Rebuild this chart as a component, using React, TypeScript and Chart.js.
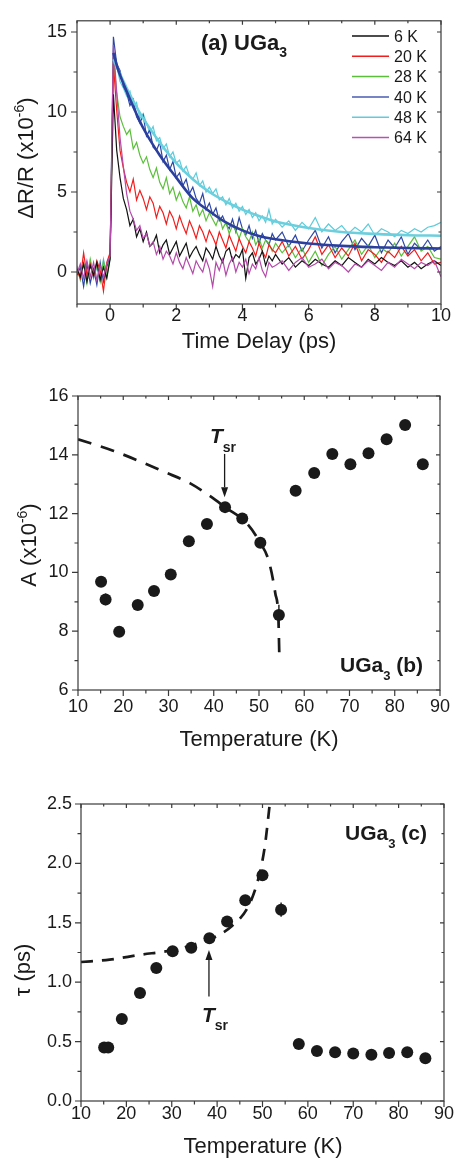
import { useEffect, useRef } from "react";
import { Chart, registerables } from "chart.js";

Chart.register(...registerables);

const FONT = "'Liberation Sans', Arial, Helvetica, sans-serif";
const INK = "#1a1a1a";
const FRAME = "#3a3a3a";

// ---------------- Panel (a) data ----------------
const TIME_PS = [
  -1.0, -0.9, -0.8, -0.7, -0.6, -0.5, -0.4, -0.3, -0.2, -0.1,
  0.0,
  0.1, 0.2, 0.3, 0.4, 0.5, 0.6, 0.7, 0.8, 0.9, 1.0,
  1.1, 1.2, 1.3, 1.4, 1.5, 1.6, 1.7, 1.8, 1.9, 2.0,
  2.1, 2.2, 2.3, 2.4, 2.5, 2.6, 2.7, 2.8, 2.9, 3.0,
  3.1, 3.2, 3.3, 3.4, 3.5, 3.6, 3.7, 3.8, 3.9, 4.0,
  4.1, 4.2, 4.3, 4.4, 4.5, 4.6, 4.7, 4.8, 4.9, 5.0,
  5.2, 5.4, 5.6, 5.8, 6.0, 6.2, 6.4, 6.6, 6.8, 7.0,
  7.2, 7.4, 7.6, 7.8, 8.0, 8.2, 8.4, 8.6, 8.8, 9.0,
  9.2, 9.4, 9.6, 9.8, 10.0,
];

const TRACE_6K = [
  0.2, -0.3, 0.5, -0.6, 0.4, -0.2, 0.6, -0.5, 0.3, -0.4,
  0.8,
  11.1, 7.6, 5.9, 4.6, 3.9, 2.9, 3.3, 2.2, 2.7, 1.9,
  2.5, 1.6, 1.8, 2.3, 1.2, 1.7, 2.0, 1.1, 1.5, 1.9,
  1.0, 1.4, 1.8, 0.9, 1.3, 1.6, 1.1, 0.7, 1.5, 1.2,
  0.8, 1.6, 1.0, 0.6, 1.3, 1.5, 0.7, 1.1, 0.9, 1.4,
  -0.4, 0.9, 1.2, 0.5, 0.8, 1.3, 0.4, 1.0, 0.7, 1.1,
  0.5, 0.9, 0.3, 0.7, 0.4, 0.8, 0.5, 0.3, 0.7, 0.4,
  0.9, 0.6, 0.3, 0.8, 0.5, 0.9, 0.6, 0.4, 0.7, 0.3,
  0.6, 0.2, 0.5, 0.7, 0.4,
];

const TRACE_20K = [
  0.1, -0.4, 1.2, -0.2, 0.5, -0.3, 0.7, 0.1, -1.2, 0.6,
  1.2,
  13.0, 10.1, 7.6, 6.5, 5.6, 5.0, 5.8, 4.5, 5.1, 4.6,
  3.9, 4.7, 4.3, 3.4, 4.1, 3.7, 3.0, 3.8, 3.4, 2.7,
  3.5, 2.9, 2.4, 3.2, 2.7, 2.1, 2.9, 2.5, 1.9, 2.6,
  2.2, 1.7, 2.5, 2.0, 1.5, 2.3, 1.8, 1.3, 2.1, 1.6,
  1.2, 1.9, 1.5, 1.0, 1.8, 1.3, 0.9, 1.7, 1.4, 1.2,
  1.9, 1.0, 1.6, 0.8, 1.4, 2.2, 1.1, 1.7, 0.9, 1.5,
  1.0, 1.8, 0.7, 1.4, 1.1, 0.6, 1.3, 0.9, 1.6, 1.0,
  1.4, 0.7, 1.2, 0.5, 0.6,
];

const TRACE_28K = [
  0.3, -0.5, 0.6, -0.7, 0.8, -0.2, 0.4, -0.6, 0.7, -0.3,
  0.9,
  13.4, 11.2, 9.7, 9.1, 8.6, 8.9, 7.7, 8.1, 7.3, 6.8,
  7.2, 6.4, 5.9, 6.5, 5.6, 5.2, 5.9, 4.9, 5.3, 4.5,
  5.0, 4.4, 4.0, 4.7, 3.8, 4.2, 3.5, 3.9, 3.2, 3.7,
  3.3, 2.9, 3.5, 2.7, 3.1, 2.4, 2.9, 2.6, 2.1, 2.7,
  2.2, 1.9, 2.5, 1.7, 2.1, 1.5, 2.0, 1.8, 1.3, 1.8,
  1.2, 1.7, 0.9, 1.5, 0.6, 1.3, 0.4, 1.1, 1.6, 0.8,
  1.4, 2.0, 1.1, 1.7, 0.9, 1.5, 1.2, 1.8, 1.0, 1.6,
  2.2, 1.3, 1.6, 0.9, 0.8,
];

const TRACE_40K = [
  -0.2, 0.3, -0.9, 0.5, -0.7, 0.2, -0.8, 0.6, -0.6, 0.3,
  1.0,
  14.7, 13.0, 12.6, 11.6, 11.2, 10.4, 10.8, 9.7, 9.3, 9.8,
  8.5, 8.9, 7.8, 7.6, 8.1, 6.9, 7.3, 6.4, 6.9, 5.9,
  6.2, 5.4, 5.8, 4.9, 5.3, 4.6, 4.3, 4.9, 3.9, 4.3,
  3.6, 4.0, 3.2, 3.5, 3.0, 2.7, 3.3, 2.5, 3.4, 2.7,
  2.3, 2.9, 2.1, 2.6, 1.8, 2.4, 2.0, 1.7, 2.4, 2.0,
  2.5, 1.6, 2.3, 1.3, 2.0, 2.6, 1.5, 2.2, 1.2, 1.9,
  2.4, 1.4, 2.1, 1.6, 2.3, 1.2, 2.0, 1.5, 2.2, 1.1,
  1.8, 1.4, 2.0, 1.3, 1.6,
];

const TRACE_48K = [
  0.4, -0.3, 0.5, -0.6, 0.7, -0.4, 0.3, -0.5, 0.8, -0.2,
  0.9,
  13.7, 12.9, 11.9, 11.5, 11.0, 11.3, 10.3, 10.6, 9.6, 9.9,
  9.3, 8.7, 9.1, 8.2, 8.4, 7.7, 8.0, 7.2, 7.5, 6.8,
  7.0, 6.3, 6.6, 6.0, 5.8, 6.2, 5.4, 5.7, 5.0, 5.3,
  4.9, 5.2, 4.5, 4.7, 4.2, 4.6, 4.0, 4.3, 3.8, 4.1,
  3.6, 3.9, 3.4, 3.7, 3.2, 3.5, 3.1, 3.9, 3.0, 3.3,
  2.8, 3.2, 2.6, 3.1, 2.7, 3.4, 2.5, 3.0, 2.6, 2.9,
  2.4, 2.8, 2.5, 3.0, 2.3, 2.7, 2.5, 2.2, 2.6, 2.4,
  2.7, 2.5, 2.8, 2.9, 3.1,
];

const TRACE_64K = [
  -0.1, 0.5, -0.4, 0.7, -0.3, 0.6, -0.5, 0.4, -0.3, 0.5,
  1.0,
  14.2, 11.2, 8.4, 6.6, 4.9, 3.8, 3.3, 2.6, 2.9, 2.1,
  2.4, 1.6, 1.9, 1.1, 1.6, 0.8, 1.3, 1.0, 0.5, 1.2,
  0.6, 0.2, 0.9, 0.4, -0.1, 0.7, 0.3, 0.0, 0.8, 0.2,
  -0.9, 0.6, 0.1, 0.8, -0.2, 0.5, 0.9, 0.0, 0.6, 0.3,
  0.8, -0.1, 0.5, 0.2, 0.9, 0.1, -0.3, 0.6, 0.3, 0.4,
  0.7, 0.1, 0.6, 0.9, 0.3, 0.5, 0.8, 0.2, 0.6, 0.4,
  0.0, 0.5, 0.3, 0.7, 0.4, 0.1, 0.6, 0.3, 0.8, 0.5,
  0.2, 0.6, 0.4, 0.7, -0.3,
];

const FIT_T = [0.1, 0.25, 0.5, 0.75, 1, 1.5, 2, 2.5, 3, 3.5, 4, 4.5, 5, 6, 7, 8, 9, 10];
const FIT_40K = [13.7, 12.6, 11.3, 10.1, 9.0, 7.3, 5.9, 4.6, 3.8, 3.1, 2.6, 2.25, 2.05, 1.78, 1.63, 1.55, 1.5, 1.47];
const FIT_48K = [13.3, 12.6, 11.5, 10.5, 9.6, 8.1, 6.8, 5.8, 5.0, 4.4, 3.9, 3.5, 3.15, 2.75, 2.5, 2.38, 2.3, 2.27];

const LEGEND_LABELS = ["6 K", "20 K", "28 K", "40 K", "48 K", "64 K"];
const LEGEND_COLORS = ["#111111", "#f21d1d", "#5cbf3c", "#4a5db0", "#62cbdb", "#b952ae"];

const X_TICKS_A = [0, 2, 4, 6, 8, 10];
const X_MINOR_A = [-1, 1, 3, 5, 7, 9];
const Y_TICKS_A = [0, 5, 10, 15];
const Y_MINOR_A = [2.5, 7.5, 12.5];

// ---------------- Panel (b) data ----------------
const TEMP_B = [15.1, 16.1, 19.1, 23.2, 26.8, 30.5, 34.5, 38.5, 42.5, 46.3, 50.3, 54.4, 58.1, 62.2, 66.2, 70.2, 74.2, 78.2, 82.3, 86.2];
const AMP_B = [9.68, 9.08, 7.98, 8.89, 9.37, 9.93, 11.06, 11.65, 12.22, 11.83, 11.01, 8.55, 12.78, 13.38, 14.03, 13.68, 14.05, 14.53, 15.01, 13.68];
const AMP_ERR_B = [0, 0.2, 0, 0, 0, 0, 0, 0, 0, 0, 0, 0.35, 0, 0, 0, 0, 0, 0, 0, 0];
const CURVE_B_T = [10, 17.9, 23.8, 28.9, 34.8, 39.6, 42.5, 47.3, 50.3, 52.1, 53.6, 54.3, 54.5];
const CURVE_B_A = [14.53, 14.13, 13.77, 13.43, 13.03, 12.55, 12.22, 11.67, 11.0, 10.42, 9.29, 8.38, 7.13];

const X_TICKS_BC = [10, 20, 30, 40, 50, 60, 70, 80, 90];
const X_MINOR_BC = [15, 25, 35, 45, 55, 65, 75, 85];
const Y_TICKS_B = [6, 8, 10, 12, 14, 16];
const Y_MINOR_B = [7, 9, 11, 13, 15];

// ---------------- Panel (c) data ----------------
const TEMP_C = [15.1, 16.0, 19.0, 23.0, 26.6, 30.2, 34.3, 38.3, 42.2, 46.2, 50.0, 54.1, 58.0, 62.0, 66.0, 70.0, 74.0, 77.9, 81.9, 85.9];
const TAU_C = [0.45, 0.45, 0.69, 0.91, 1.12, 1.26, 1.29, 1.37, 1.51, 1.69, 1.9, 1.61, 0.48, 0.42, 0.41, 0.4, 0.39, 0.405, 0.41, 0.36];
const TAU_ERR_C = [0, 0, 0, 0, 0, 0, 0, 0, 0, 0, 0, 0.06, 0, 0, 0, 0, 0, 0, 0, 0];
const CURVE_C_T = [10, 16.3, 22.9, 30.2, 36.0, 40.0, 43.2, 46.9, 49.0, 50.5, 51.6];
const CURVE_C_TAU = [1.17, 1.19, 1.23, 1.27, 1.33, 1.39, 1.47, 1.64, 1.86, 2.14, 2.5];

const Y_TICKS_C = [0, 0.5, 1.0, 1.5, 2.0, 2.5];
const Y_MINOR_C = [0.25, 0.75, 1.25, 1.75, 2.25];

// ---------------- helpers ----------------
type Run = { t: string; f: string; dy?: number };

function rich(ctx: CanvasRenderingContext2D, runs: Run[], x: number, y: number, align: "left" | "center" | "right" = "left", rot = 0) {
  ctx.save();
  ctx.translate(x, y);
  if (rot) ctx.rotate(rot);
  ctx.textBaseline = "alphabetic";
  ctx.textAlign = "left";
  ctx.fillStyle = INK;
  let w = 0;
  runs.forEach((r) => {
    ctx.font = r.f;
    w += ctx.measureText(r.t).width;
  });
  let cx = align === "left" ? 0 : align === "center" ? -w / 2 : -w;
  runs.forEach((r) => {
    ctx.font = r.f;
    ctx.fillText(r.t, cx, r.dy || 0);
    cx += ctx.measureText(r.t).width;
  });
  ctx.restore();
}

function f(size: number, style = "") {
  return `${style} ${size}px ${FONT}`.trim();
}

function frameAndTicks(chart: any, xMaj: number[], xMin: number[], yMaj: number[], yMin: number[]) {
  const { ctx, chartArea: a } = chart;
  const xs = chart.scales.x;
  const ys = chart.scales.y;
  ctx.save();
  ctx.strokeStyle = FRAME;
  ctx.lineWidth = 1.2;
  ctx.strokeRect(a.left, a.top, a.right - a.left, a.bottom - a.top);
  ctx.beginPath();
  const xt = (v: number, o: number, i: number) => {
    const p = xs.getPixelForValue(v);
    ctx.moveTo(p, a.bottom);
    ctx.lineTo(p, a.bottom + o);
    ctx.moveTo(p, a.top);
    ctx.lineTo(p, a.top + i);
  };
  const yt = (v: number, o: number, i: number) => {
    const p = ys.getPixelForValue(v);
    ctx.moveTo(a.left, p);
    ctx.lineTo(a.left - o, p);
    ctx.moveTo(a.right, p);
    ctx.lineTo(a.right - i, p);
  };
  xMaj.forEach((v) => xt(v, 6, 4));
  xMin.forEach((v) => xt(v, 3.5, 2.5));
  yMaj.forEach((v) => yt(v, 6, 4));
  yMin.forEach((v) => yt(v, 3.5, 2.5));
  ctx.stroke();
  ctx.restore();
}

function arrow(ctx: CanvasRenderingContext2D, x: number, yTail: number, yTip: number) {
  const dir = yTip > yTail ? 1 : -1;
  const head = 10;
  ctx.save();
  ctx.strokeStyle = INK;
  ctx.fillStyle = INK;
  ctx.lineWidth = 1.3;
  ctx.beginPath();
  ctx.moveTo(x, yTail);
  ctx.lineTo(x, yTip - dir * head);
  ctx.stroke();
  ctx.beginPath();
  ctx.moveTo(x, yTip);
  ctx.lineTo(x - 3.5, yTip - dir * head);
  ctx.lineTo(x + 3.5, yTip - dir * head);
  ctx.closePath();
  ctx.fill();
  ctx.restore();
}

function errorBars(chart: any, xs: number[], ys: number[], errs: number[]) {
  const { ctx } = chart;
  const sx = chart.scales.x;
  const sy = chart.scales.y;
  ctx.save();
  ctx.strokeStyle = INK;
  ctx.lineWidth = 1.4;
  ctx.beginPath();
  errs.forEach((e, i) => {
    if (!e) return;
    const px = sx.getPixelForValue(xs[i]);
    ctx.moveTo(px, sy.getPixelForValue(ys[i] - e));
    ctx.lineTo(px, sy.getPixelForValue(ys[i] + e));
  });
  ctx.stroke();
  ctx.restore();
}

function axis(min: number, max: number, ticks: number[], size: number, pad: number, dir: "x" | "y", fmt?: (v: number) => string) {
  return {
    type: "linear",
    min,
    max,
    grid: { display: false, drawTicks: false },
    border: { display: false },
    afterBuildTicks: (s: any) => {
      s.ticks = ticks.map((v) => ({ value: v }));
    },
    afterFit: (s: any) => {
      if (dir === "x") s.height = size;
      else s.width = size;
    },
    ticks: {
      font: { family: FONT, size: 18 },
      color: INK,
      padding: pad,
      maxRotation: 0,
      autoSkip: false,
      callback: (v: any) => (fmt ? fmt(Number(v)) : String(v)),
    },
  };
}

const pts = (xs: number[], ys: number[]) => xs.map((x, i) => ({ x, y: ys[i] }));

const common = {
  responsive: false,
  maintainAspectRatio: false,
  animation: false,
  events: [],
};

// ---------------- configs ----------------
function configA(): any {
  const line = (data: number[], color: string, order: number) => ({
    data: pts(TIME_PS, data),
    showLine: true,
    borderColor: color,
    borderWidth: 1.2,
    pointRadius: 0,
    tension: 0,
    order,
  });
  return {
    type: "scatter",
    data: {
      datasets: [
        { data: pts(FIT_T, FIT_40K), showLine: true, borderColor: "#2b3f9e", borderWidth: 2.6, pointRadius: 0, cubicInterpolationMode: "monotone", order: 0 },
        { data: pts(FIT_T, FIT_48K), showLine: true, borderColor: "#6ccfdd", borderWidth: 2.6, pointRadius: 0, cubicInterpolationMode: "monotone", order: 0 },
        line(TRACE_64K, "#b44aa9", 1),
        line(TRACE_6K, "#111111", 2),
        line(TRACE_20K, "#f21d1d", 3),
        line(TRACE_28K, "#5cbf3c", 4),
        line(TRACE_40K, "#2d47a6", 5),
        line(TRACE_48K, "#5ccbdb", 6),
      ],
    },
    options: {
      ...common,
      layout: { padding: { top: 12, right: 15, left: 0, bottom: 0 } },
      plugins: { legend: { display: false }, tooltip: { enabled: false } },
      scales: {
        x: axis(-1, 10, X_TICKS_A, 56, 1, "x"),
        y: axis(-2, 15.7, Y_TICKS_A, 77, 10, "y"),
      },
    },
    plugins: [
      {
        id: "decorA",
        afterDraw(chart: any) {
          const ctx = chart.ctx;
          frameAndTicks(chart, X_TICKS_A, X_MINOR_A, Y_TICKS_A, Y_MINOR_A);
          rich(ctx, [{ t: "(a) UGa", f: f(22, "bold") }, { t: "3", f: f(14, "bold"), dy: 7 }], 201, 50);
          LEGEND_LABELS.forEach((lab, i) => {
            const y = 36 + i * 20.3;
            ctx.save();
            ctx.strokeStyle = LEGEND_COLORS[i];
            ctx.lineWidth = 1.5;
            ctx.beginPath();
            ctx.moveTo(352, y);
            ctx.lineTo(389, y);
            ctx.stroke();
            ctx.restore();
            rich(ctx, [{ t: lab, f: f(16) }], 394, y + 5.8);
          });
          rich(ctx, [{ t: "ΔR/R (x10", f: f(22) }, { t: "-6", f: f(14), dy: -9 }, { t: ")", f: f(22) }], 33, 158, "center", -Math.PI / 2);
          rich(ctx, [{ t: "Time Delay (ps)", f: f(22) }], 259, 348, "center");
        },
      },
    ],
  };
}

function configB(): any {
  return {
    type: "scatter",
    data: {
      datasets: [
        { data: pts(TEMP_B, AMP_B), backgroundColor: INK, borderWidth: 0, pointRadius: 6, order: 0 },
        { data: pts(CURVE_B_T, CURVE_B_A), showLine: true, borderColor: INK, borderWidth: 2.7, borderDash: [14, 10], pointRadius: 0, cubicInterpolationMode: "monotone", order: 1 },
      ],
    },
    options: {
      ...common,
      layout: { padding: { top: 26, right: 16, left: 0, bottom: 0 } },
      plugins: { legend: { display: false }, tooltip: { enabled: false } },
      scales: {
        x: axis(10, 90, X_TICKS_BC, 70, 6, "x"),
        y: axis(6, 16, Y_TICKS_B, 78, 9.5, "y"),
      },
    },
    plugins: [
      {
        id: "decorB",
        afterDraw(chart: any) {
          const ctx = chart.ctx;
          const sx = chart.scales.x;
          const sy = chart.scales.y;
          frameAndTicks(chart, X_TICKS_BC, X_MINOR_BC, Y_TICKS_B, Y_MINOR_B);
          errorBars(chart, TEMP_B, AMP_B, AMP_ERR_B);
          arrow(ctx, sx.getPixelForValue(42.4), sy.getPixelForValue(14.03), sy.getPixelForValue(12.56));
          rich(ctx, [{ t: "T", f: f(21, "italic bold") }, { t: "sr", f: f(14, "bold"), dy: 9 }], 210, 73);
          rich(ctx, [{ t: "UGa", f: f(21, "bold") }, { t: "3", f: f(13, "bold"), dy: 8 }, { t: " (b)", f: f(21, "bold") }], 340, 302);
          rich(ctx, [{ t: "A (x10", f: f(22) }, { t: "-6", f: f(14), dy: -9 }, { t: ")", f: f(22) }], 36, 175, "center", -Math.PI / 2);
          rich(ctx, [{ t: "Temperature (K)", f: f(22) }], 259, 376, "center");
        },
      },
    ],
  };
}

function configC(): any {
  return {
    type: "scatter",
    data: {
      datasets: [
        { data: pts(TEMP_C, TAU_C), backgroundColor: INK, borderWidth: 0, pointRadius: 6, order: 0 },
        { data: pts(CURVE_C_T, CURVE_C_TAU), showLine: true, borderColor: INK, borderWidth: 2.7, borderDash: [12, 9], pointRadius: 0, cubicInterpolationMode: "monotone", order: 1 },
      ],
    },
    options: {
      ...common,
      layout: { padding: { top: 34, right: 10, left: 0, bottom: 0 } },
      plugins: { legend: { display: false }, tooltip: { enabled: false } },
      scales: {
        x: axis(10, 90, X_TICKS_BC, 60, 2, "x"),
        y: axis(0, 2.5, Y_TICKS_C, 81, 9, "y", (v) => v.toFixed(1)),
      },
    },
    plugins: [
      {
        id: "decorC",
        afterDraw(chart: any) {
          const ctx = chart.ctx;
          const sx = chart.scales.x;
          const sy = chart.scales.y;
          frameAndTicks(chart, X_TICKS_BC, X_MINOR_BC, Y_TICKS_C, Y_MINOR_C);
          errorBars(chart, TEMP_C, TAU_C, TAU_ERR_C);
          arrow(ctx, sx.getPixelForValue(38.2), sy.getPixelForValue(0.88), sy.getPixelForValue(1.27));
          rich(ctx, [{ t: "T", f: f(21, "italic bold") }, { t: "sr", f: f(14, "bold"), dy: 8 }], 202, 252);
          rich(ctx, [{ t: "UGa", f: f(21, "bold") }, { t: "3", f: f(13, "bold"), dy: 8 }, { t: " (c)", f: f(21, "bold") }], 345, 70);
          rich(ctx, [{ t: "τ (ps)", f: f(22) }], 30, 200, "center", -Math.PI / 2);
          rich(ctx, [{ t: "Temperature (K)", f: f(22) }], 263, 383, "center");
        },
      },
    ],
  };
}

export default function App() {
  const refA = useRef<HTMLCanvasElement>(null);
  const refB = useRef<HTMLCanvasElement>(null);
  const refC = useRef<HTMLCanvasElement>(null);

  useEffect(() => {
    const charts = [
      new Chart(refA.current as HTMLCanvasElement, configA()),
      new Chart(refB.current as HTMLCanvasElement, configB()),
      new Chart(refC.current as HTMLCanvasElement, configC()),
    ];
    return () => charts.forEach((c) => c.destroy());
  }, []);

  const cv = (top: number, h: number) => ({ position: "absolute" as const, left: 0, top, width: 456, height: h });

  return (
    <div style={{ position: "absolute", left: 0, top: 0, width: 456, height: 1161, background: "#ffffff", overflow: "hidden" }}>
      <canvas ref={refA} width={456} height={360} style={cv(0, 360)} />
      <canvas ref={refB} width={456} height={390} style={cv(370, 390)} />
      <canvas ref={refC} width={456} height={391} style={cv(770, 391)} />
    </div>
  );
}
